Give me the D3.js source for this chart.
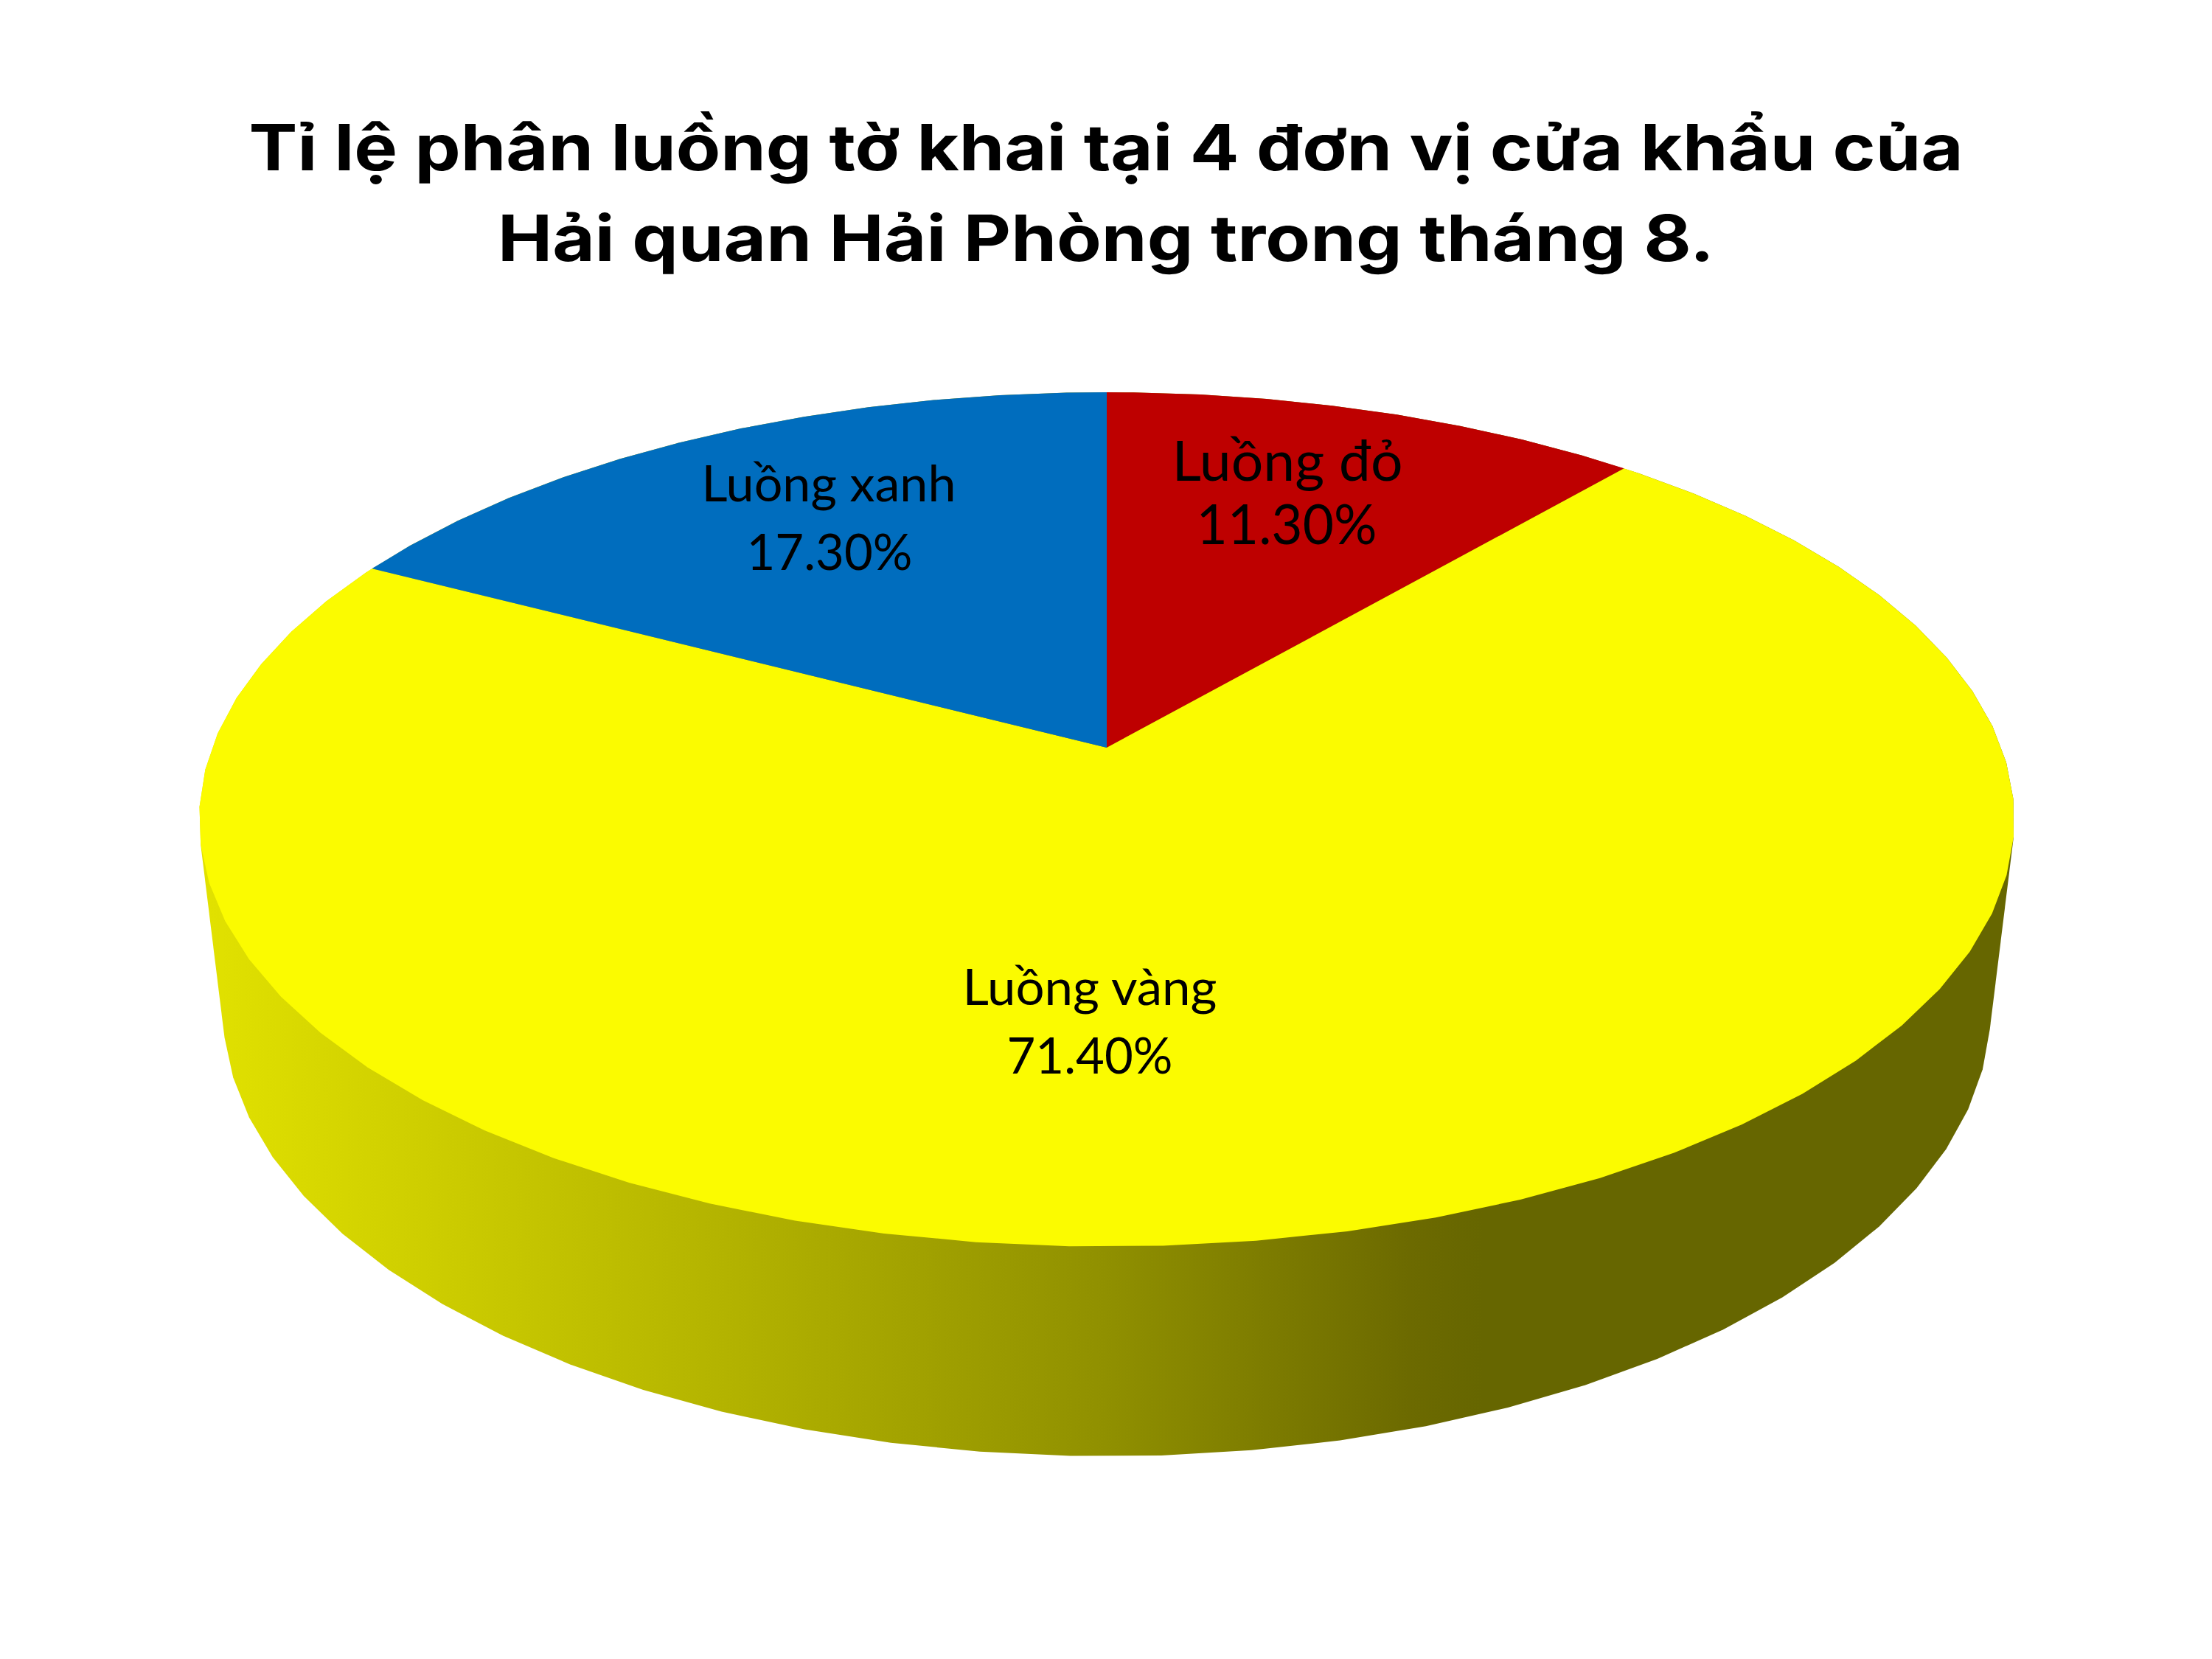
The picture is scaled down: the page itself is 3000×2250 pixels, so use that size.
<!DOCTYPE html>
<html>
<head>
<meta charset="utf-8">
<script src="https://cdn.jsdelivr.net/npm/d3@7"></script>
<style>
  html, body { margin: 0; padding: 0; background: #fff; }
  svg { display: block; }
</style>
</head>
<body>
<div id="chart-area"></div>
<script>
const categories = ['Luồng đỏ', 'Luồng vàng', 'Luồng xanh'];
const values = [11.3, 71.4, 17.3];
const valueLabels = ['11.30%', '71.40%', '17.30%'];
const titleLines = [
    'Tỉ lệ phân luồng tờ khai tại 4 đơn vị cửa khẩu của',
    'Hải quan Hải Phòng trong tháng 8.'
];

const sliceColors = ['#be0000', '#fbfb00', '#006dbe'];

const svg = d3.select('#chart-area').append('svg')
    .attr('width', 3000)
    .attr('height', 2250);

// perspective of the disc: apex is the centre of the pie, not of the ellipse
const apexX = 1501, apexY = 1014;
const k = 1213.5, h = 563, p = 0.168;
const depthQ = 0.026, depthC = 261.6;

const project = (a, bottom) => {
    const u = Math.sin(a), v = -Math.cos(a);
    const w = bottom ? 1 + depthQ - p * v : 1 - p * v;
    return [
        apexX + k * u / w,
        apexY + (h * v + (bottom ? depthC : 0)) / w
    ];
};

const pie = d3.pie().sort(null).value(d => d)(values);
const line = d3.line();

// the rim in the original is a polygon with facets of about 5 degrees
const deg = Math.PI / 180;
const rimGrid = d3.range(2 * deg, 2 * Math.PI, 5 * deg);
const rimAngles = (a0, a1) => [a0].concat(rimGrid.filter(a => a > a0 && a < a1), [a1]);

// side wall, shaded left to right
const defs = svg.append('defs');
const shade = defs.append('linearGradient')
    .attr('id', 'side')
    .attr('gradientUnits', 'userSpaceOnUse')
    .attr('x1', 270).attr('x2', 2732)
    .attr('y1', 0).attr('y2', 0);
const sideStops = [[270, '#e2e200'], [1000, '#b2b200'], [1500, '#909000'], [1912, '#6c6a00'], [2010, '#666600'], [2732, '#666600']];
shade.selectAll('stop').data(sideStops).enter()
    .append('stop')
    .attr('offset', d => (d[0] - 270) / (2732 - 270))
    .attr('stop-color', d => d[1]);

const hull = d3.polygonHull(rimGrid.map(a => project(a, false)).concat(rimGrid.map(a => project(a, true))));
svg.append('path')
    .attr('d', line(hull) + 'Z')
    .attr('fill', 'url(#side)');

// top face
svg.selectAll('path.slice')
    .data(pie).enter()
    .append('path')
    .attr('class', 'slice')
    .attr('d', d => line([[apexX, apexY]].concat(rimAngles(d.startAngle, d.endAngle).map(a => project(a, false)))) + 'Z')
    .attr('fill', (d, i) => sliceColors[i]);

// title
const titleLayout = [[1500, 231, 2325], [1500, 354, 1650]];
svg.selectAll('text.title')
    .data(titleLines).enter()
    .append('text')
    .attr('class', 'title')
    .attr('x', (d, i) => titleLayout[i][0])
    .attr('y', (d, i) => titleLayout[i][1])
    .attr('text-anchor', 'middle')
    .attr('font-family', 'Inter')
    .attr('font-weight', 700)
    .attr('font-size', 86)
    .attr('fill', '#000')
    .text(d => d)
    .attr('textLength', (d, i) => titleLayout[i][2])
    .attr('lengthAdjust', 'spacingAndGlyphs');

// x, name baseline, name width, value x, value baseline, value width, font size
const labelLayout = [
    [1746, 652, 313, 1745, 738, 245, 76],
    [1478, 1363, 345, 1478, 1456, 225, 67],
    [1124, 680, 345, 1125, 773, 225, 67]
];
const labels = svg.selectAll('g.label')
    .data(categories).enter()
    .append('g')
    .attr('class', 'label')
    .attr('font-family', 'Lato')
    .attr('text-anchor', 'middle')
    .attr('fill', '#000')
    .attr('font-size', (d, i) => labelLayout[i][6]);

labels.append('text')
    .attr('x', (d, i) => labelLayout[i][0])
    .attr('y', (d, i) => labelLayout[i][1])
    .text(d => d)
    .attr('textLength', (d, i) => labelLayout[i][2])
    .attr('lengthAdjust', 'spacingAndGlyphs');

labels.append('text')
    .attr('x', (d, i) => labelLayout[i][3])
    .attr('y', (d, i) => labelLayout[i][4])
    .text((d, i) => valueLabels[i])
    .attr('textLength', (d, i) => labelLayout[i][5])
    .attr('lengthAdjust', 'spacingAndGlyphs');
</script>
</body>
</html>
